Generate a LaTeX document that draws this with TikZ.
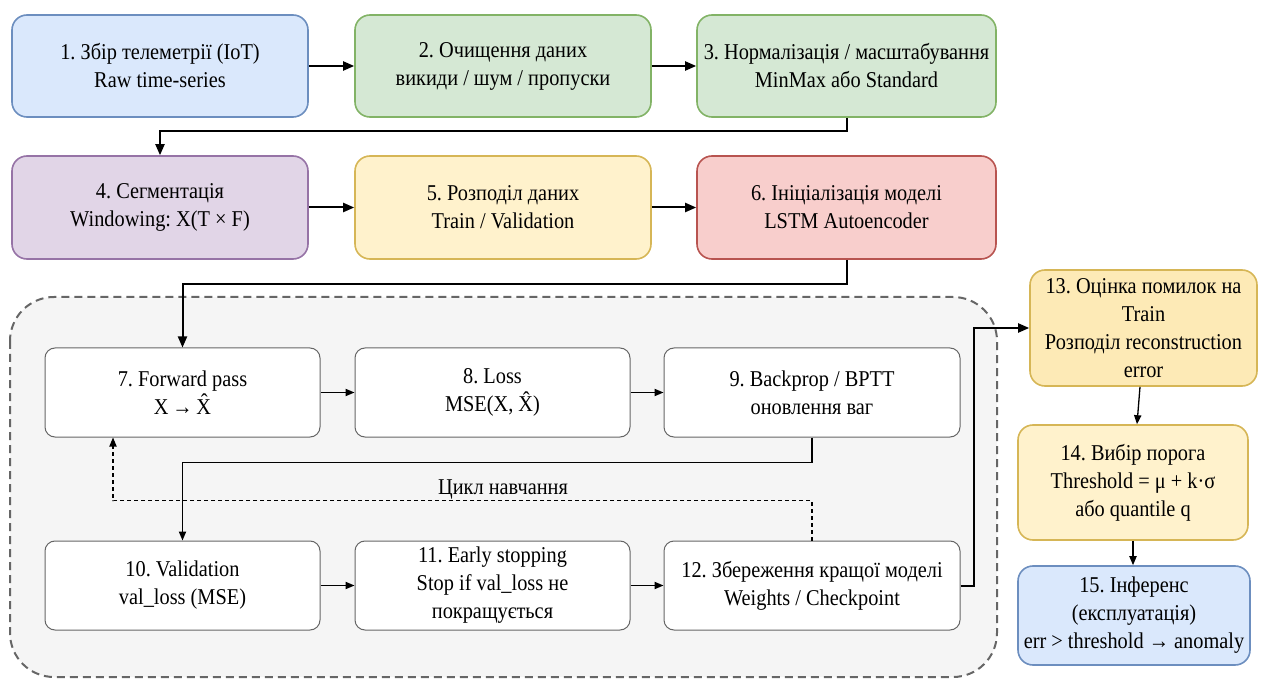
\documentclass[tikz,border=0pt]{standalone}
\usepackage{fontspec}
\setmainfont{Liberation Serif}[FakeStretch=0.9]
\usetikzlibrary{arrows.meta,calc}

\definecolor{bluefill}{HTML}{DAE8FC}\definecolor{bluedraw}{HTML}{6C8EBF}
\definecolor{greenfill}{HTML}{D5E8D4}\definecolor{greendraw}{HTML}{82B366}
\definecolor{purplefill}{HTML}{E1D5E7}\definecolor{purpledraw}{HTML}{9673A6}
\definecolor{yellowfill}{HTML}{FFF2CC}\definecolor{yellowdraw}{HTML}{D6B656}
\definecolor{yellowdeep}{HTML}{FDEAB6}
\definecolor{redfill}{HTML}{F8CECC}\definecolor{reddraw}{HTML}{B85450}
\definecolor{groupfill}{HTML}{F5F5F5}\definecolor{groupdraw}{HTML}{666666}
\definecolor{stepdraw}{HTML}{666666}

\tikzset{
  lbl/.style={font=\fontsize{11.3}{14}\selectfont\frenchspacing, align=center, inner sep=0pt},
  colbox/.style={lbl, draw, line width=0.8pt, rounded corners=7.5pt},
  bluebox/.style={colbox, fill=bluefill, draw=bluedraw},
  greenbox/.style={colbox, fill=greenfill, draw=greendraw},
  purplebox/.style={colbox, fill=purplefill, draw=purpledraw},
  yellowbox/.style={colbox, fill=yellowfill, draw=yellowdraw},
  redbox/.style={colbox, fill=redfill, draw=reddraw},
  trainbox/.style={lbl, draw=stepdraw, fill=white, line width=0.5pt, rounded corners=5pt,
    minimum height=44.5pt},
  bigarrow/.style={line width=1pt, -{Triangle[length=5.5pt,width=4.5pt]}},
  smallarrow/.style={line width=0.65pt, -{Triangle[length=4.5pt,width=3.6pt]}},
  looparrow/.style={line width=0.55pt, dash pattern=on 2pt off 1.5pt,
    -{Triangle[length=4.5pt,width=3.6pt]}},
}

\begin{document}
\begin{tikzpicture}[x=0.5pt,y=-0.5pt]
\useasboundingbox (0,0) rectangle (1264,679);

% training loop container
\draw[fill=groupfill, draw=groupdraw, line width=1pt, dash pattern=on 4pt off 2.5pt,
  rounded corners=22pt] (10,297) rectangle (997,677);

% data preparation rows
\node[bluebox, minimum width=148pt, minimum height=51pt] (n1) at (160,66)
  {1. Збір телеметрії (IoT)\\Raw time-series};
\node[greenbox, minimum width=148pt, minimum height=51pt] (n2) at (503,66)
  {2. Очищення даних\\викиди / шум / пропуски};
\node[greenbox, minimum width=149.5pt, minimum height=51pt] (n3) at (846.5,66)
  {3. Нормалізація / масштабування\\MinMax або Standard};
\node[purplebox, minimum width=148pt, minimum height=51.5pt] (n4) at (160,207.5)
  {4. Сегментація\\Windowing: X(T × F)};
\node[yellowbox, minimum width=148pt, minimum height=51.5pt] (n5) at (503,207.5)
  {5. Розподіл даних\\Train / Validation};
\node[redbox, minimum width=149.5pt, minimum height=51.5pt] (n6) at (846.5,207.5)
  {6. Ініціалізація моделі\\LSTM Autoencoder};

% training steps
\node[trainbox, minimum width=137.5pt] (n7) at (182.5,392.5)
  {7. Forward pass\\X\,→\,\^{X}};
\node[trainbox, minimum width=137.5pt] (n8) at (492.5,392.5)
  {8. Loss\\MSE(X, \^{X})};
\node[trainbox, minimum width=148pt] (n9) at (812,392.5)
  {9. Backprop / BPTT\\оновлення ваг};
\node[trainbox, minimum width=137.5pt] (n10) at (182.5,585.5)
  {10. Validation\\val\_loss (MSE)};
\node[trainbox, minimum width=137.5pt] (n11) at (492.5,585.5)
  {11. Early stopping\\Stop if val\_loss не\\покращується};
\node[trainbox, minimum width=148pt] (n12) at (812,585.5)
  {12. Збереження кращої моделі\\Weights / Checkpoint};

% evaluation column
\node[colbox, fill=yellowdeep, draw=yellowdraw, minimum width=113.5pt, minimum height=58pt]
  (n13) at (1143.5,328)
  {13. Оцінка помилок на\\Train\\Розподіл reconstruction\\error};
\node[yellowbox, minimum width=115pt, minimum height=57.5pt] (n14) at (1133,482.5)
  {14. Вибір порога\\Threshold = μ + k·σ\\або quantile q};
\node[bluebox, minimum width=116pt, minimum height=49.5pt] (n15) at (1134,615.5)
  {15. Інференс\\(експлуатація)\\err > threshold → anomaly};

% pipeline connectors
\draw[bigarrow] (n1) -- (n2);
\draw[bigarrow] (n2) -- (n3);
\draw[bigarrow] (n3.south) -- ++(0,13) -| (n4.north);
\draw[bigarrow] (n4) -- (n5);
\draw[bigarrow] (n5) -- (n6);
\draw[bigarrow] (n6.south) -- ++(0,24) -| (n7.north);

% training connectors
\draw[smallarrow] (n7) -- (n8);
\draw[smallarrow] (n8) -- (n9);
\draw[smallarrow] (n9.south) -- ++(0,25) -| (n10.north);
\draw[smallarrow] (n10) -- (n11);
\draw[smallarrow] (n11) -- (n12);
\draw[looparrow] (n12.north) -- ++(0,-40) coordinate (loopturn)
  -| ($(n7.south)+(-69.5,0)$);
\node[lbl] (looplabel) at (503,490) {Цикл навчання};

% evaluation connectors
\draw[bigarrow] (n12.east) -- ++(13,0) |- (n13.west);
\draw[smallarrow] ($(n13.south)+(-3.5,0)$) -- ($(n14.north)+(4,0)$);
\draw[smallarrow] (n14.south) -- (n14.south |- n15.north);
\end{tikzpicture}
\end{document}
